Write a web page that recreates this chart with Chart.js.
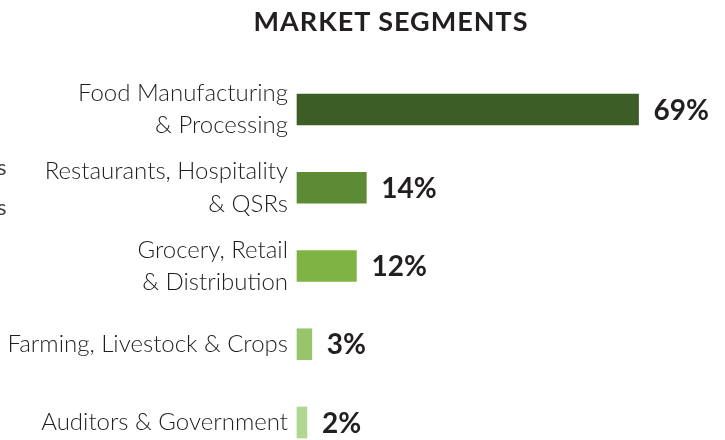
<!DOCTYPE html>
<html>
<head>
<meta charset="utf-8">
<script src="https://cdn.jsdelivr.net/npm/chart.js@4/dist/chart.umd.min.js"></script>
<style>
  html, body { margin: 0; padding: 0; background: #fff; overflow: hidden; }
  #wrap { position: relative; width: 725px; height: 440px; }
  #title {
    position: absolute; left: 191px; width: 400px; top: 4px;
    text-align: center; font: bold 27px Lato, sans-serif; color: #231f20;
    letter-spacing: 1px;
  }
  .stray { position: absolute; left: -3px; font: 22px Lato, sans-serif; color: #444; }
</style>
</head>
<body>
<div id="wrap">
  <canvas id="chart" width="725" height="440"></canvas>
  <div id="title">MARKET SEGMENTS</div>
  <span class="stray" style="top:153px">s</span>
  <span class="stray" style="top:193px">s</span>
</div>
<script>
// market segment shares, percent
const segments = [
  ['Food Manufacturing', '& Processing'],
  ['Restaurants, Hospitality', '& QSRs'],
  ['Grocery, Retail', '& Distribution'],
  'Farming, Livestock & Crops',
  'Auditors & Government'
];
const shares = [69, 14, 12, 3, 2];
const barColors = ['#3d5d26', '#5c8a35', '#7db443', '#98c46c', '#b0d68f'];

// percentage text to the right of each bar
const valueLabels = {
  id: 'valueLabels',
  afterDatasetsDraw(chart) {
    const ctx = chart.ctx;
    const meta = chart.getDatasetMeta(0);
    ctx.save();
    ctx.font = 'bold 28px Lato, sans-serif';
    ctx.fillStyle = '#231f20';
    ctx.textBaseline = 'middle';
    ctx.textAlign = 'left';
    meta.data.forEach((bar, i) => {
      ctx.fillText(shares[i] + '%', bar.x + 15, bar.y + 1);
    });
    ctx.restore();
  }
};

new Chart(document.getElementById('chart'), {
  type: 'bar',
  data: {
    labels: segments,
    datasets: [{
      data: shares,
      backgroundColor: barColors,
      barThickness: 31,
      clip: false
    }]
  },
  options: {
    indexAxis: 'y',
    responsive: false,
    animation: false,
    layout: { padding: { left: 0, right: 32, top: 109.5, bottom: 17.5 } },
    scales: {
      x: { display: false, min: 0, max: 80 },
      y: {
        offset: false,
        grid: { display: false, drawTicks: false },
        border: { display: false },
        ticks: {
          padding: 9,
          color: '#1f1f1f',
          font: { family: 'Lato', size: 24, weight: 300, lineHeight: 1.35 }
        },
        afterFit(scale) {
          scale.width = 297;
          scale.paddingTop = 0;
          scale.paddingBottom = 0;
        }
      }
    },
    plugins: {
      legend: { display: false },
      tooltip: { enabled: false }
    }
  },
  plugins: [valueLabels]
});
</script>
</body>
</html>
